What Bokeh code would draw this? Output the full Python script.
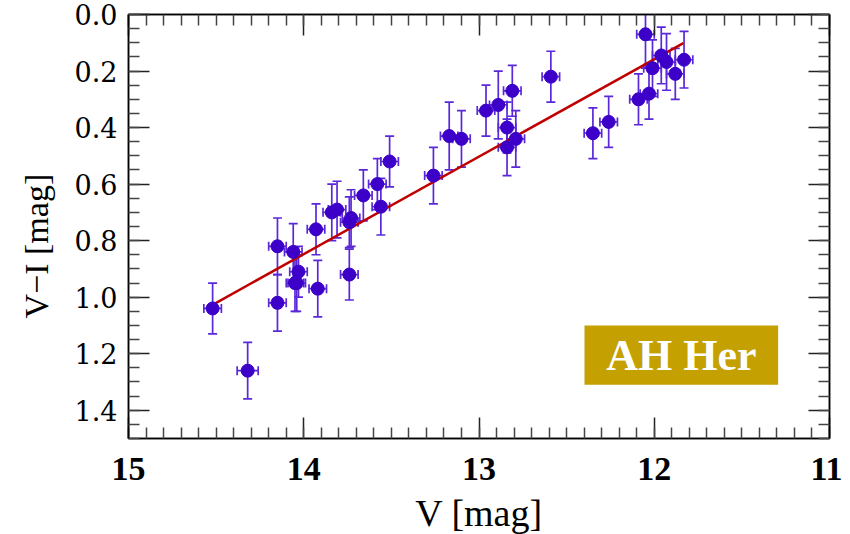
import numpy as np
from bokeh.plotting import figure
from bokeh.models import (Range1d, FixedTicker, LinearAxis, Whisker, TeeHead, Title,
                          ColumnDataSource, PrintfTickFormatter, BoxAnnotation, Label)
from bokeh.embed import file_html
from bokeh.resources import INLINE

# ---- data ----
v_mag = [14.52, 14.32, 14.15, 14.15, 14.06, 14.03, 14.05, 14.04, 13.92, 13.93,
         13.84, 13.81, 13.74, 13.74, 13.73, 13.66, 13.58, 13.56, 13.51, 13.26,
         13.17, 13.10, 12.96, 12.89, 12.81, 12.84, 12.79, 12.84, 12.59, 12.35,
         12.26, 12.09, 12.03, 12.05, 12.01, 11.96, 11.93, 11.88, 11.83]
vi_mag = [1.04, 1.26, 0.82, 1.02, 0.84, 0.91, 0.95, 0.95, 0.97, 0.76,
          0.70, 0.69, 0.92, 0.735, 0.72, 0.64, 0.60, 0.68, 0.52, 0.57,
          0.43, 0.44, 0.34, 0.32, 0.27, 0.40, 0.44, 0.47, 0.22, 0.42,
          0.38, 0.30, 0.28, 0.07, 0.19, 0.145, 0.168, 0.21, 0.16]
v_err = [0.05, 0.06, 0.05, 0.05, 0.05, 0.05, 0.05, 0.05, 0.05, 0.05,
         0.05, 0.05, 0.05, 0.05, 0.05, 0.05, 0.05, 0.05, 0.05, 0.05,
         0.05, 0.05, 0.05, 0.05, 0.05, 0.05, 0.05, 0.05, 0.05, 0.05,
         0.05, 0.05, 0.05, 0.05, 0.05, 0.05, 0.05, 0.05, 0.05]
vi_err = [0.09, 0.10, 0.10, 0.10, 0.10, 0.09, 0.10, 0.10, 0.10, 0.09,
          0.10, 0.10, 0.09, 0.09, 0.10, 0.09, 0.09, 0.10, 0.09, 0.10,
          0.12, 0.10, 0.09, 0.12, 0.09, 0.09, 0.10, 0.10, 0.09, 0.09,
          0.09, 0.09, 0.09, 0.12, 0.10, 0.10, 0.10, 0.09, 0.10]
fit_v = [14.52, 11.834]
fit_vi = [1.027, 0.101]
x_ticks = [15, 14, 13, 12, 11]
y_ticks = [0.0, 0.2, 0.4, 0.6, 0.8, 1.0, 1.2, 1.4]
star_name = "AH Her"
x_title = "V [mag]"
y_title = "V\u2212I [mag]"

v = np.array(v_mag); vi = np.array(vi_mag)
ve = np.array(v_err); vie = np.array(vi_err)
src = ColumnDataSource(dict(v=v, vi=vi, vlo=v - ve, vhi=v + ve,
                            vilo=vi - vie, vihi=vi + vie))

p = figure(frame_width=701, frame_height=424, output_backend="svg",
           toolbar_location=None, x_range=Range1d(15, 11), y_range=Range1d(1.5, 0),
           min_border_left=128, min_border_right=13, min_border_top=14,
           min_border_bottom=96)
p.grid.visible = False
p.outline_line_color = "black"
p.outline_line_width = 1.5
p.background_fill_color = "white"
p.border_fill_color = "white"

xt = FixedTicker(ticks=x_ticks, minor_ticks=list(np.round(np.arange(11, 15.001, 0.1), 2)))
yt = FixedTicker(ticks=y_ticks, minor_ticks=list(np.round(np.arange(0, 1.5001, 0.05), 3)))

def style(ax, labels=True):
    ax.major_tick_in = 21
    ax.major_tick_out = 0
    ax.minor_tick_in = 11
    ax.minor_tick_out = 0
    ax.major_tick_line_color = "#222222"
    ax.minor_tick_line_color = "#444444"
    ax.major_tick_line_width = 1.5
    ax.minor_tick_line_width = 1.5
    ax.axis_line_color = "black"
    ax.axis_line_width = 1.5
    if not labels:
        ax.major_label_overrides = {t: "" for t in ax.ticker.ticks}
        ax.major_label_text_font_size = "1px"
        ax.major_label_standoff = 0

xa = p.xaxis[0]
xa.ticker = xt
xa.formatter = PrintfTickFormatter(format="%d")
style(xa)
xa.major_label_text_font = "Liberation Serif"
xa.major_label_text_font_style = "bold"
xa.major_label_text_font_size = "34px"
xa.major_label_text_color = "black"
xa.major_label_standoff = 19
xa.axis_label = x_title
xa.axis_label_text_font = "Liberation Serif"
xa.axis_label_text_font_style = "normal"
xa.axis_label_text_font_size = "38px"
xa.axis_label_text_color = "black"
xa.axis_label_standoff = 9

ya = p.yaxis[0]
ya.ticker = yt
ya.formatter = PrintfTickFormatter(format="%.1f")
style(ya)
ya.major_label_text_font = "DejaVu Serif"
ya.major_label_text_font_size = "27px"
ya.major_label_text_color = "black"
ya.major_label_standoff = 11
ya.major_label_orientation = "horizontal"
ya.axis_label = None

top = LinearAxis(ticker=xt, axis_label=None)
style(top, labels=False)
p.add_layout(top, "above")
right = LinearAxis(ticker=yt, axis_label=None)
style(right, labels=False)
p.add_layout(right, "right")

# y axis title, placed like the reference (left of the frame, slightly below centre)
p.add_layout(Title(text=y_title, align="left", vertical_align="top", offset=120, standoff=30,
                   text_color="black", text_font="Liberation Serif",
                   text_font_style="normal", text_font_size="34px"), "left")

# fit line
p.line(fit_v, fit_vi, line_color="#c00000", line_width=2.5)

bar_color = "#5a28d8"
p.add_layout(Whisker(source=src, base="v", lower="vilo", upper="vihi", dimension="height",
                     line_color=bar_color, line_width=1.7,
                     upper_head=TeeHead(size=9, line_color=bar_color, line_width=1.7),
                     lower_head=TeeHead(size=9, line_color=bar_color, line_width=1.7)))
p.add_layout(Whisker(source=src, base="vi", lower="vlo", upper="vhi", dimension="width",
                     line_color=bar_color, line_width=1.7,
                     upper_head=TeeHead(size=9, line_color=bar_color, line_width=1.7),
                     lower_head=TeeHead(size=9, line_color=bar_color, line_width=1.7)))
p.scatter("v", "vi", source=src, size=13, marker="circle", fill_color="#3c00c8",
          line_color="#3c00c8")

# star label box
p.add_layout(BoxAnnotation(left=12.398, right=11.293, top=1.10, bottom=1.31,
                           fill_color="#c4a000", fill_alpha=1.0, line_color=None))
p.add_layout(Label(x=11.845, y=1.205, text=star_name, text_align="center",
                   text_baseline="middle", text_color="white", text_font="Liberation Serif",
                   text_font_style="bold", text_font_size="44px"))

open("out.html", "w").write(file_html(p, INLINE))
